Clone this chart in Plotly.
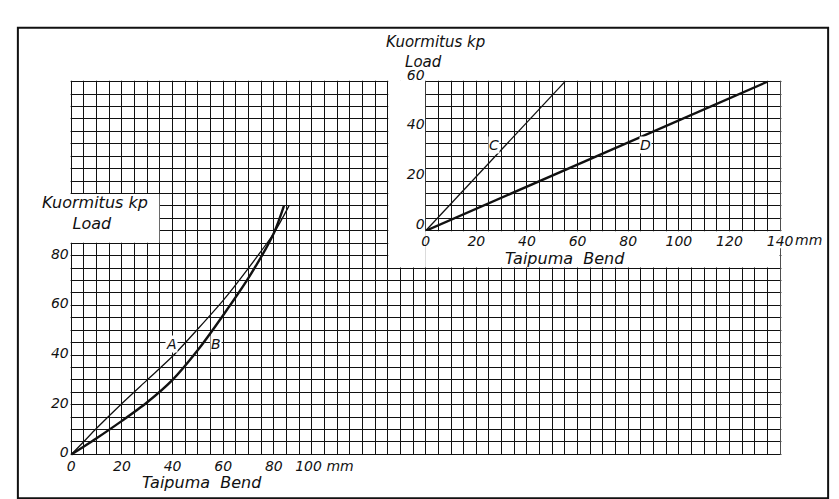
import plotly.graph_objects as go

W, H = 839, 499

# ---------------- data ----------------
# Left chart: load (kp) versus bend (mm), curves A and B
bend_A = [0, 5, 10, 20, 30, 40, 50, 60, 70, 80, 86]
load_A = [0, 5.2, 10.5, 20.5, 30, 39.5, 50.5, 62, 75, 89, 100]
bend_B = [0, 5, 10, 20, 30, 40, 50, 60, 70, 80, 84]
load_B = [0, 3.2, 6.5, 13.5, 21, 30, 42, 56, 71, 89, 100]
# Inset chart: straight lines C and D
bend_C = [0, 55]
load_C = [0, 60]
bend_D = [0, 135]
load_D = [0, 60]

main_x_labels = {0: "0", 20: "20", 40: "40", 60: "60", 80: "80", 100: "100 mm"}
main_y_labels = [0, 20, 40, 60, 80]
inset_x_labels = [0, 20, 40, 60, 80, 100, 120, 140]
inset_y_labels = [0, 20, 40, 60]

GRID_STEP = 5
GRID_X_MAX = 280
GRID_Y_MAX = 150

# ---------------- geometry ----------------
PX0, PX1 = 60.5, 784.0
PY_TOP, PY_BOT = 61.0, 448.5
ppu_x = (PX1 - PX0) / GRID_X_MAX
ppu_y = (PY_BOT - PY_TOP) / GRID_Y_MAX
PAD = 0.6


def fx(px):
    return px / W


def fy(py):
    return 1 - py / H


xdom = [fx(PX0 - PAD * ppu_x), fx(PX1 + PAD * ppu_x)]
ydom = [fy(PY_BOT + PAD * ppu_y), fy(PY_TOP - PAD * ppu_y)]
INSET_X0, INSET_Y0 = 140, 90
ix0 = PX0 + INSET_X0 * ppu_x
iy0 = PY_BOT - INSET_Y0 * ppu_y
xdom2 = [fx(ix0), fx(PX1)]
ydom2 = [fy(iy0), fy(PY_TOP)]

INK = "#111111"
FONT = "DejaVu Sans"
tickfont = dict(family=FONT, size=14, color=INK, style="italic")

grid_x = list(range(0, GRID_X_MAX + 1, GRID_STEP))
grid_y = list(range(0, GRID_Y_MAX + 1, GRID_STEP))

fig = go.Figure()

fig.add_trace(go.Scatter(x=bend_A, y=load_A, mode="lines",
                         line=dict(color=INK, width=1.3, shape="spline", smoothing=0.8),
                         hoverinfo="skip", showlegend=False, xaxis="x", yaxis="y"))
fig.add_trace(go.Scatter(x=bend_B, y=load_B, mode="lines",
                         line=dict(color=INK, width=2.4, shape="spline", smoothing=0.8),
                         hoverinfo="skip", showlegend=False, xaxis="x", yaxis="y"))
fig.add_trace(go.Scatter(x=bend_C, y=load_C, mode="lines",
                         line=dict(color=INK, width=1.3),
                         hoverinfo="skip", showlegend=False, xaxis="x2", yaxis="y2"))
fig.add_trace(go.Scatter(x=bend_D, y=load_D, mode="lines",
                         line=dict(color=INK, width=2.4),
                         hoverinfo="skip", showlegend=False, xaxis="x2", yaxis="y2"))

fig.update_layout(
    width=W, height=H,
    margin=dict(l=0, r=0, t=0, b=0),
    paper_bgcolor="white",
    plot_bgcolor="rgba(0,0,0,0)",
    xaxis=dict(domain=xdom, range=[-PAD, GRID_X_MAX + PAD], anchor="y",
               tickmode="array", tickvals=grid_x,
               ticktext=[main_x_labels.get(v, "") for v in grid_x],
               showgrid=True, gridcolor=INK, gridwidth=1, zeroline=False,
               showline=False, ticks="", tickfont=tickfont, fixedrange=True),
    yaxis=dict(domain=ydom, range=[-PAD, GRID_Y_MAX + PAD], anchor="x",
               tickmode="array", tickvals=grid_y,
               ticktext=[str(v) if v in main_y_labels else "" for v in grid_y],
               showgrid=True, gridcolor=INK, gridwidth=1, zeroline=False,
               showline=False, ticks="", tickfont=tickfont, fixedrange=True,
               ticklabelshift=-2),
    xaxis2=dict(domain=xdom2, range=[0, 140], anchor="y2",
                tickmode="array", tickvals=inset_x_labels,
                showgrid=False, zeroline=False, showline=False, ticks="",
                tickfont=tickfont, fixedrange=True),
    yaxis2=dict(domain=ydom2, range=[0, 60], anchor="x2",
                tickmode="array", tickvals=inset_y_labels,
                showgrid=False, zeroline=False, showline=False, ticks="",
                tickfont=tickfont, fixedrange=True, ticklabelshift=-7),
)

white = dict(type="rect", xref="x", yref="y", fillcolor="white",
             line=dict(width=0), layer="between")
cutouts = [
    (-1, 34.8, 85.2, 104.8),            # box for left axis title
    (125.2, 139.8, 75.2, 151),          # strip left of inset
    (139.8, 279.8, 75.2, 89.8),         # band for inset x labels
    (279.0, 281.0, 83.0, 89.8),         # gap for "140 mm"
    (-1, 281, -1, -0.25),               # overhangs
    (-1, 281, 150.25, 151),
    (-1, -0.25, -1, 151),
    (280.25, 281, -1, 151),
]
shapes = [dict(white, x0=a, x1=b, y0=c, y1=d) for a, b, c, d in cutouts]
shapes.append(dict(type="rect", xref="paper", yref="paper",
                   x0=fx(6), x1=fx(833), y0=fy(494), y1=fy(5),
                   line=dict(color=INK, width=2), fillcolor="rgba(0,0,0,0)"))
fig.update_layout(shapes=shapes)

tfont = dict(family=FONT, size=16, color=INK, style="italic")
t2font = dict(family=FONT, size=15, color=INK, style="italic")
lfont = dict(family=FONT, size=14, color=INK, style="italic")
ann = []


def ptext(text, px, py, xanchor="left", yanchor="middle", font=tfont, bg=None):
    d = dict(text=text, xref="paper", yref="paper", x=fx(px), y=fy(py),
             xanchor=xanchor, yanchor=yanchor, showarrow=False, font=font,
             align="left", borderpad=0)
    if bg:
        d["bgcolor"] = bg
    ann.append(d)


NB = "\u00a0"
ptext("Kuormitus kp<br>" + NB * 6 + "Load", 30, 198)
ptext("Kuormitus kp<br>" + NB * 4 + "Load", 381, 30, font=t2font)
ptext("Taipuma" + NB + " Bend", 194, 478, xanchor="center")
ptext("Taipuma" + NB + " Bend", 564, 245, xanchor="center")
ptext("mm", 798, 226, font=lfont, bg="white")

for t, x, y, ref in [("A", 39.5, 44.5, ("x", "y")), ("B", 57, 44.5, ("x", "y")),
                     ("C", 27, 34.4, ("x2", "y2")), ("D", 87, 34.4, ("x2", "y2"))]:
    ann.append(dict(text=t, x=x, y=y, xref=ref[0], yref=ref[1], showarrow=False,
                    font=lfont, bgcolor="white", borderpad=0,
                    xanchor="center", yanchor="middle"))

fig.update_layout(annotations=ann)

fig.write_html("out.html")
